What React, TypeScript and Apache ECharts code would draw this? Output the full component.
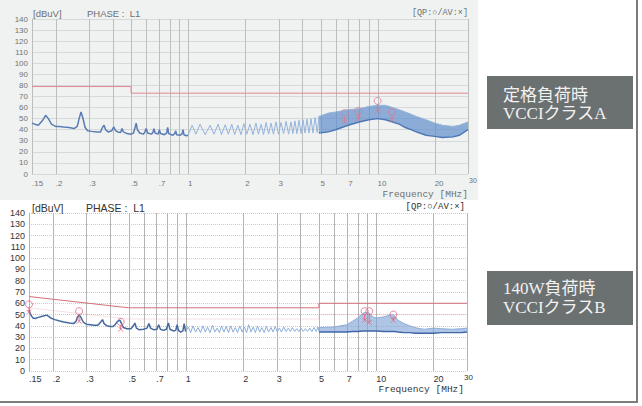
import React, { useEffect, useRef } from "react";
import * as echarts from "echarts";

// Frequency axis (MHz): labelled ticks and log grid positions
const TICK_FREQS = [0.15, 0.2, 0.3, 0.5, 0.7, 1, 2, 3, 5, 7, 10, 20, 30];
const TICK_LABELS = [".15", ".2", ".3", ".5", ".7", "1", "2", "3", "5", "7", "10", "20", "30"];
const GRID_FREQS = [0.15, 0.2, 0.3, 0.4, 0.5, 0.6, 0.7, 0.8, 0.9, 1, 2, 3, 4, 5, 6, 7, 8, 9, 10, 20, 30];

// ---------- Upper plot: rated load, VCCI class A ----------
const topLimitQP: [number, number][] = [[0.15, 79], [0.5, 79], [0.5, 73], [30, 73]];

const topTraceLow: [number, number][] = [
  [0.15, 46], [0.155, 45], [0.162, 44], [0.17, 48], [0.177, 53], [0.183, 50], [0.19, 45], [0.2, 43],
  [0.21, 43], [0.22, 42.5], [0.235, 42], [0.25, 41], [0.26, 43], [0.266, 50], [0.272, 56], [0.278, 51],
  [0.286, 42], [0.295, 39], [0.31, 38.5], [0.33, 38], [0.345, 38], [0.353, 42], [0.36, 44], [0.367, 40],
  [0.378, 38], [0.395, 39], [0.405, 42.5], [0.413, 39.5], [0.425, 38], [0.44, 37.5], [0.448, 41], [0.456, 38],
  [0.475, 36.5], [0.5, 36], [0.515, 37], [0.525, 42], [0.532, 46], [0.54, 40], [0.555, 37], [0.58, 36],
  [0.59, 37.5], [0.6, 41], [0.612, 37], [0.64, 36], [0.652, 37.5], [0.66, 41], [0.67, 37], [0.695, 36],
  [0.705, 40], [0.715, 36.5], [0.75, 35.5], [0.77, 37], [0.78, 42], [0.79, 36.5], [0.83, 35], [0.85, 36.5],
  [0.86, 39], [0.87, 35.5], [0.91, 35], [0.93, 36.5], [0.94, 40], [0.95, 35.5], [0.98, 34.5], [1.0, 35],
];

const topComb: [number, number][] = [
  [1.0, 35], [1.05, 44], [1.1, 36], [1.155, 45], [1.23, 35.5], [1.305, 44], [1.37, 36], [1.44, 45],
  [1.5, 35.5], [1.57, 44.5], [1.63, 36], [1.7, 45], [1.76, 35.5], [1.83, 44], [1.9, 35.5], [1.97, 45.5],
  [2.04, 36], [2.12, 45], [2.2, 35.5], [2.28, 46], [2.35, 36], [2.43, 45], [2.5, 35.5], [2.58, 46.5],
  [2.66, 36], [2.74, 46], [2.82, 36], [2.91, 47], [3.0, 36], [3.09, 46.5], [3.19, 36.5], [3.29, 47.5],
  [3.39, 36], [3.49, 47], [3.57, 36.5], [3.66, 48], [3.75, 36.5], [3.85, 48.5], [3.95, 36.5], [4.04, 49],
  [4.14, 37], [4.24, 49.5], [4.34, 37], [4.45, 50], [4.56, 37], [4.68, 51], [4.8, 37.5], [4.91, 52], [5.0, 37.5],
];

const topBandFreq = [4.9, 5.5, 6, 7, 8, 9, 10, 11, 12, 13, 14, 15, 16, 18, 20, 22, 25, 27, 30];
const topBandHigh = [52, 55, 56, 58, 59, 61, 62, 62, 60, 58, 56, 54, 52, 49, 46, 44, 43, 44, 47];
const topBandLow = [37, 38, 40, 44, 47, 49, 50, 49, 47, 45, 42, 40, 38, 35, 34, 33, 33.5, 35, 40];

const topPeakFreq = [6.7, 7.9, 10.0, 11.9];
const topPeakQP = [55, 57, 66, 56];
const topPeakAV = [47, 50, 57, 49];

// ---------- Lower plot: 140 W load, VCCI class B ----------
const bottomLimitQP: [number, number][] = [[0.15, 66], [0.5, 56], [5, 56], [5, 60], [30, 60]];
const bottomLimitAV: [number, number][] = [[0.15, 56], [0.5, 46], [5, 46], [5, 50], [30, 50]];

const bottomTraceLow: [number, number][] = [
  [0.15, 54], [0.153, 50], [0.157, 47], [0.162, 46.5], [0.168, 47.5], [0.176, 48.5], [0.186, 49.5],
  [0.195, 47], [0.205, 45.5], [0.215, 44.5], [0.228, 43.5], [0.245, 42.5], [0.258, 42], [0.265, 44],
  [0.27, 48], [0.276, 49.5], [0.282, 47], [0.29, 43], [0.3, 41.5], [0.315, 41], [0.33, 40.5], [0.345, 40.5],
  [0.357, 43.5], [0.365, 45.5], [0.372, 42], [0.385, 40], [0.4, 39.5], [0.415, 39.5], [0.425, 41],
  [0.435, 43.5], [0.45, 45], [0.458, 42.5], [0.47, 38.5], [0.49, 37.5], [0.515, 37.5], [0.53, 40],
  [0.54, 42.5], [0.55, 38], [0.57, 36.5], [0.6, 37], [0.625, 38], [0.64, 42], [0.652, 38], [0.68, 36.5],
  [0.705, 37], [0.72, 41], [0.735, 37], [0.765, 36], [0.79, 37], [0.81, 42.5], [0.825, 37], [0.86, 35.5],
  [0.885, 36], [0.9, 41], [0.915, 36], [0.94, 34.5], [0.965, 35.5], [0.98, 42], [0.995, 36], [1.0, 35],
];

const bottomComb: [number, number][] = [
  [1.0, 35], [1.03, 39], [1.06, 34], [1.09, 40], [1.125, 34.5], [1.16, 38.5], [1.195, 34], [1.23, 40],
  [1.265, 34.5], [1.3, 39], [1.34, 34], [1.38, 40.5], [1.42, 34.5], [1.46, 38], [1.5, 34], [1.54, 40],
  [1.585, 34.5], [1.63, 39.5], [1.675, 34], [1.72, 40], [1.77, 34.5], [1.82, 38.5], [1.87, 34], [1.92, 40],
  [1.975, 34.5], [2.03, 39], [2.085, 34], [2.14, 41], [2.2, 34.5], [2.26, 39], [2.32, 34], [2.38, 40],
  [2.445, 34.5], [2.51, 38.5], [2.58, 34], [2.65, 39.5], [2.72, 34.5], [2.8, 38.5], [2.87, 34.5], [2.95, 39.5],
  [3.02, 34.5], [3.1, 38], [3.18, 34.5], [3.27, 39], [3.36, 35], [3.45, 38], [3.54, 35], [3.63, 38.5],
  [3.73, 35], [3.83, 37.5], [3.93, 35], [4.03, 38], [4.14, 35], [4.25, 37.5], [4.36, 35], [4.48, 38],
  [4.6, 35], [4.72, 38.5], [4.84, 35], [4.95, 39], [5.0, 35.5],
];

const bottomBandFreq = [5, 6, 7, 7.5, 8, 8.5, 8.8, 9.2, 9.6, 10, 11, 12, 12.5, 13, 14, 15, 16, 17, 18, 20, 22, 25, 28, 30];
const bottomBandHigh = [38.5, 39, 41, 44, 47, 51, 52, 51.5, 48, 47, 48, 50, 49, 45, 42, 40, 38.5, 37.5, 37, 38, 37.5, 37, 37.5, 38];
const bottomBandLow = [34.5, 34.5, 34.5, 35, 35, 35.5, 35.5, 35.5, 35.5, 35.5, 35, 35, 35, 34.5, 34, 34, 33.5, 33.5, 33.5, 33.5, 34, 34, 34, 34.5];

const bottomPeakFreq = [0.15, 0.275, 0.455, 8.7, 9.2, 12.3];
const bottomPeakQP = [59, 53, 43.5, 53, 53, 50];
const bottomPeakAV = [52, 44, 37, 45, 43, 45];

const SANS = "'Liberation Sans', Arial, sans-serif";
const MONO = "'Liberation Mono', 'DejaVu Sans Mono', monospace";

type Theme = {
  vGrid: string;
  hGrid: string;
  hGridType: "solid" | "dotted" | "dashed";
  axisText: string;
  axisFont: number;
  limit: string;
  trace: string;
  comb: string;
  bandFill: string;
  bandEdge: string;
  marker: string;
  labelDy: number;
  lastDx: number;
  lastDy: number;
};

const topTheme: Theme = {
  vGrid: "#babebe",
  hGrid: "#d6d9d9",
  hGridType: "solid",
  axisText: "#707474",
  axisFont: 8,
  limit: "#e08a90",
  trace: "#5a7cb2",
  comb: "#93b3da",
  bandFill: "rgba(92,138,200,0.68)",
  bandEdge: "#4c78b6",
  marker: "#e07a90",
  labelDy: 9,
  lastDx: 1,
  lastDy: 6,
};

const bottomTheme: Theme = {
  vGrid: "#b4b4b4",
  hGrid: "#cccccc",
  hGridType: "dotted",
  axisText: "#333333",
  axisFont: 9,
  limit: "#d27078",
  trace: "#46699f",
  comb: "#8eaed8",
  bandFill: "rgba(125,162,215,0.62)",
  bandEdge: "#3f66a6",
  marker: "#e06a82",
  labelDy: 8,
  lastDx: -3,
  lastDy: 6,
};

function plotSeries(
  idx: number,
  th: Theme,
  limits: [number, number][][],
  limitStyles: { color: string; width: number }[],
  low: [number, number][],
  comb: [number, number][],
  bandFreq: number[],
  bandLow: number[],
  bandHigh: number[],
  peakFreq: number[],
  peakQP: number[],
  peakAV: number[]
): any[] {
  const base = { xAxisIndex: idx, yAxisIndex: idx, silent: true, animation: false };
  const list: any[] = [];

  // vertical log grid
  list.push({
    ...base,
    type: "custom",
    z: 1,
    encode: { x: 0, y: 1 },
    data: GRID_FREQS.map((f) => [f, 0]),
    renderItem: (_p: any, api: any) => {
      const a = api.coord([api.value(0), 0]);
      const b = api.coord([api.value(0), 140]);
      const x = Math.round(a[0]) + 0.5;
      return {
        type: "line",
        shape: { x1: x, y1: a[1], x2: x, y2: b[1] },
        style: { stroke: th.vGrid, lineWidth: 1 },
      };
    },
  });

  // frequency tick labels
  list.push({
    ...base,
    type: "custom",
    z: 1,
    clip: false,
    encode: { x: 0, y: 1 },
    data: TICK_FREQS.map((f, i) => [f, 0, i]),
    renderItem: (_p: any, api: any) => {
      const i = api.value(2);
      const p = api.coord([api.value(0), 0]);
      const last = i === TICK_LABELS.length - 1;
      return {
        type: "text",
        x: p[0] + (last ? th.lastDx : 0),
        y: p[1] + (last ? th.lastDy : th.labelDy),
        style: {
          text: TICK_LABELS[i],
          fill: th.axisText,
          font: `${last ? th.axisFont - 1 : th.axisFont}px ${SANS}`,
          textAlign: "left",
          textVerticalAlign: "middle",
          align: "left",
          verticalAlign: "middle",
        },
      };
    },
  });

  // dense emission band
  list.push({
    ...base,
    type: "custom",
    z: 2,
    encode: { x: 0, y: 1 },
    data: bandFreq.map((f, i) => [f, bandLow[i], bandHigh[i]]),
    renderItem: (params: any, api: any) => {
      if (params.dataIndex !== 0) return null;
      const upper = bandFreq.map((f, i) => api.coord([f, bandHigh[i]]));
      const lower = bandFreq.map((f, i) => api.coord([f, bandLow[i]]));
      return {
        type: "group",
        children: [
          {
            type: "polygon",
            shape: { points: upper.concat(lower.slice().reverse()) },
            style: { fill: th.bandFill, stroke: "none" },
          },
          {
            type: "polyline",
            shape: { points: upper },
            style: { stroke: th.comb, lineWidth: 1, fill: "none" },
          },
          {
            type: "polyline",
            shape: { points: lower },
            style: { stroke: th.bandEdge, lineWidth: 1.4, fill: "none" },
          },
        ],
      };
    },
  });

  // comb region 1 - 5 MHz
  list.push({
    ...base,
    type: "line",
    z: 3,
    symbol: "none",
    data: comb,
    lineStyle: { color: th.comb, width: 1 },
  });

  // low-frequency trace
  list.push({
    ...base,
    type: "line",
    z: 3,
    symbol: "none",
    data: low,
    lineStyle: { color: th.trace, width: 1.5 },
  });

  // limit lines
  limits.forEach((lim, k) => {
    list.push({
      ...base,
      type: "line",
      z: 4,
      symbol: "none",
      data: lim,
      lineStyle: { color: limitStyles[k].color, width: limitStyles[k].width },
    });
  });

  // QP / AV marker stems
  list.push({
    ...base,
    type: "custom",
    z: 5,
    encode: { x: 0, y: 1 },
    data: peakFreq.map((f, i) => [f, peakQP[i], peakAV[i]]),
    renderItem: (_p: any, api: any) => {
      const a = api.coord([api.value(0), api.value(1)]);
      const b = api.coord([api.value(0), api.value(2)]);
      return {
        type: "line",
        shape: { x1: a[0], y1: a[1] + 3, x2: b[0], y2: b[1] },
        style: { stroke: th.marker, lineWidth: 1 },
      };
    },
  });

  // QP markers (circles)
  list.push({
    ...base,
    type: "scatter",
    z: 6,
    symbol: "circle",
    symbolSize: 7,
    data: peakFreq.map((f, i) => [f, peakQP[i]]),
    itemStyle: { color: "rgba(0,0,0,0)", borderColor: th.marker, borderWidth: 1 },
  });

  // AV markers (crosses)
  list.push({
    ...base,
    type: "scatter",
    z: 6,
    symbol: "path://M0 0L10 10M10 0L0 10",
    symbolSize: 5,
    data: peakFreq.map((f, i) => [f, peakAV[i]]),
    itemStyle: { color: "none", borderColor: th.marker, borderWidth: 1 },
  });

  return list;
}

function axisPair(idx: number, th: Theme) {
  const xAxis = {
    gridIndex: idx,
    type: "log",
    logBase: 10,
    min: 0.15,
    max: 30,
    axisLine: { show: false },
    axisTick: { show: false },
    axisLabel: { show: false },
    splitLine: { show: false },
    minorSplitLine: { show: false },
  };
  const yAxis = {
    gridIndex: idx,
    type: "value",
    min: 0,
    max: 140,
    interval: 10,
    axisLine: { show: true, lineStyle: { color: th.vGrid, width: 1 } },
    axisTick: { show: false },
    axisLabel: {
      color: th.axisText,
      fontSize: th.axisFont,
      fontFamily: SANS,
      margin: 4,
    },
    splitLine: { show: true, lineStyle: { color: th.hGrid, width: 1, type: th.hGridType } },
  };
  return { xAxis, yAxis };
}

function textEl(text: string, x: number, y: number, font: string, fill: string, align = "left") {
  return {
    type: "text",
    x,
    y,
    style: { text, font, fill, textAlign: align, textVerticalAlign: "middle", align, verticalAlign: "middle" },
  };
}

export default function App() {
  const ref = useRef<HTMLDivElement>(null);

  useEffect(() => {
    if (!ref.current) return;
    const chart = echarts.init(ref.current, undefined, { renderer: "svg" });

    const a0 = axisPair(0, topTheme);
    const a1 = axisPair(1, bottomTheme);

    const boxFont = "17px 'Liberation Serif', 'Noto Sans CJK JP', serif";

    const option: any = {
      animation: false,
      backgroundColor: "transparent",
      grid: [
        { left: 32, top: 19, width: 436, height: 155, containLabel: false },
        { left: 29, top: 213, width: 438, height: 158, containLabel: false },
      ],
      xAxis: [a0.xAxis, a1.xAxis],
      yAxis: [a0.yAxis, a1.yAxis],
      series: [
        ...plotSeries(
          0,
          topTheme,
          [topLimitQP],
          [{ color: topTheme.limit, width: 1 }],
          topTraceLow,
          topComb,
          topBandFreq,
          topBandLow,
          topBandHigh,
          topPeakFreq,
          topPeakQP,
          topPeakAV
        ),
        ...plotSeries(
          1,
          bottomTheme,
          [bottomLimitQP, bottomLimitAV],
          [
            { color: bottomTheme.limit, width: 1 },
            { color: "rgba(220,140,150,0.25)", width: 1 },
          ],
          bottomTraceLow,
          bottomComb,
          bottomBandFreq,
          bottomBandLow,
          bottomBandHigh,
          bottomPeakFreq,
          bottomPeakQP,
          bottomPeakAV
        ),
      ],
      graphic: [
        // upper plot headings
        textEl("[dBuV]", 33, 13, `9.5px ${SANS}`, "#6c7070"),
        textEl("PHASE :  L1", 87, 13, `9.5px ${SANS}`, "#6c7070"),
        textEl("[QP:○/AV:×]", 468, 13, `8.5px ${MONO}`, "#6c7070", "right"),
        textEl("Frequency [MHz]", 468, 194, `9.5px ${MONO}`, "#6c7070", "right"),
        // lower plot headings
        textEl("[dBuV]", 32, 208, `10.5px ${SANS}`, "#333333"),
        textEl("PHASE :  L1", 86, 208, `10.5px ${SANS}`, "#333333"),
        textEl("[QP:○/AV:×]", 465, 207, `9px ${MONO}`, "#333333", "right"),
        textEl("Frequency [MHz]", 464, 389, `9.5px ${MONO}`, "#333333", "right"),
        // condition captions
        { type: "rect", shape: { x: 487, y: 76, width: 146, height: 53 }, style: { fill: "#6b7071" } },
        textEl("定格負荷時", 503, 95, boxFont, "#f2f2f2"),
        textEl("VCCIクラスA", 503, 113, boxFont, "#f2f2f2"),
        { type: "rect", shape: { x: 487, y: 271, width: 146, height: 54 }, style: { fill: "#6b7071" } },
        textEl("140W負荷時", 503, 288, boxFont, "#f2f2f2"),
        textEl("VCCIクラスB", 503, 307, boxFont, "#f2f2f2"),
        // frame
        { type: "line", shape: { x1: 637, y1: 0, x2: 637, y2: 403 }, style: { stroke: "#7c7c7c", lineWidth: 2 } },
        { type: "line", shape: { x1: 0, y1: 402, x2: 638, y2: 402 }, style: { stroke: "#7c7c7c", lineWidth: 2 } },
      ],
    };

    chart.setOption(option);
    return () => chart.dispose();
  }, []);

  return (
    <div style={{ position: "absolute", left: 0, top: 0, width: 642, height: 406, background: "#ffffff" }}>
      <div style={{ position: "absolute", left: 0, top: 0, width: 478, height: 200, background: "#f0f2f2" }} />
      <div ref={ref} style={{ position: "absolute", left: 0, top: 0, width: 642, height: 406 }} />
    </div>
  );
}
